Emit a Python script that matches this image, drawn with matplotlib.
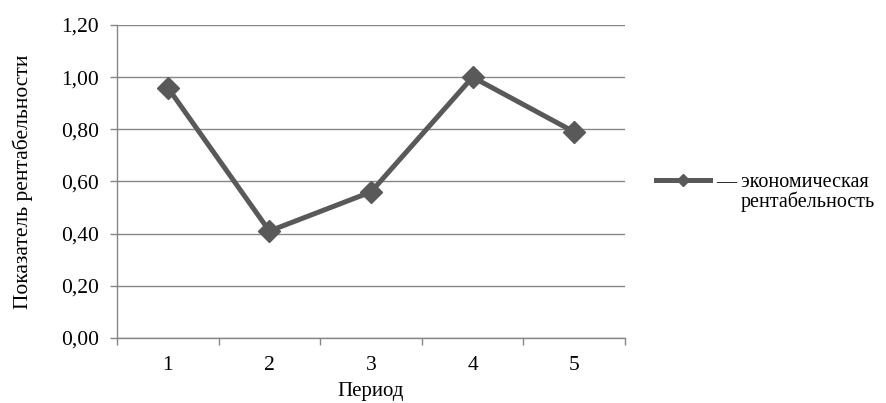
import matplotlib
matplotlib.use('Agg')
import matplotlib.pyplot as plt
from matplotlib.ticker import FixedLocator, FuncFormatter

# данные: экономическая рентабельность по периодам
periods = ['1', '2', '3', '4', '5']
profitability = [0.96, 0.41, 0.56, 1.00, 0.79]
y_ticks = [0.0, 0.2, 0.4, 0.6, 0.8, 1.0, 1.2]

plt.rcParams['font.family'] = ['Liberation Serif', 'DejaVu Serif']
plt.rcParams['font.size'] = 15

fig = plt.figure(figsize=(8.87, 4.03), dpi=100)
ax = fig.add_axes([117 / 887, 65 / 403, 508 / 887, 313 / 403])

x = list(range(len(periods)))
line_color = '#595959'
ax.plot(x, profitability, color=line_color, linewidth=3.6, marker='D',
        markersize=11, markerfacecolor=line_color, markeredgecolor=line_color,
        solid_joinstyle='miter', zorder=3)

ax.set_xlim(-0.5, len(periods) - 0.5)
ax.set_ylim(0, 1.2)

# подписи категорий по центру, засечки между категориями
ax.xaxis.set_major_locator(FixedLocator([i - 0.5 for i in range(len(periods) + 1)]))
ax.xaxis.set_major_formatter(FuncFormatter(lambda v, p: ''))
ax.xaxis.set_minor_locator(FixedLocator(x))
ax.set_xticklabels(periods, minor=True)
ax.tick_params(axis='x', which='major', length=5, color='#868686', width=1)
ax.tick_params(axis='x', which='minor', length=0, pad=13, labelsize=15.5)

ax.set_yticks(y_ticks)
ax.yaxis.set_major_formatter(FuncFormatter(lambda v, p: f'{v:.2f}'.replace('.', ',')))
ax.tick_params(axis='y', length=5, color='#868686', width=1, labelsize=15.5, pad=8)

ax.grid(axis='y', color='#868686', linewidth=1)
ax.set_axisbelow(True)
for side in ['top', 'right']:
    ax.spines[side].set_visible(False)
for side in ['left', 'bottom']:
    ax.spines[side].set_color('#868686')
    ax.spines[side].set_linewidth(1)

ax.set_xlabel('Период', fontsize=15, labelpad=5)
ax.set_ylabel('Показатель рентабельности', fontsize=15.5, labelpad=20)

# легенда справа: маркер на уровне первой строки подписи
leg = fig.legend([ax.lines[0]], ['— экономическая'],
                 loc='center left', bbox_to_anchor=(638 / 887, 1 - 182 / 403),
                 frameon=False, handlelength=2.7, handletextpad=0.3,
                 markerscale=0.55, fontsize=14.5)
# вторая строка подписи, выровнена по правому краю первой
fig.canvas.draw()
ax.annotate('рентабельность', xy=(1, 0), xycoords=leg.get_texts()[0],
            xytext=(4, -15), textcoords='offset points',
            ha='right', va='bottom', fontsize=14.5, annotation_clip=False)

fig.savefig('out.png', dpi=100)
